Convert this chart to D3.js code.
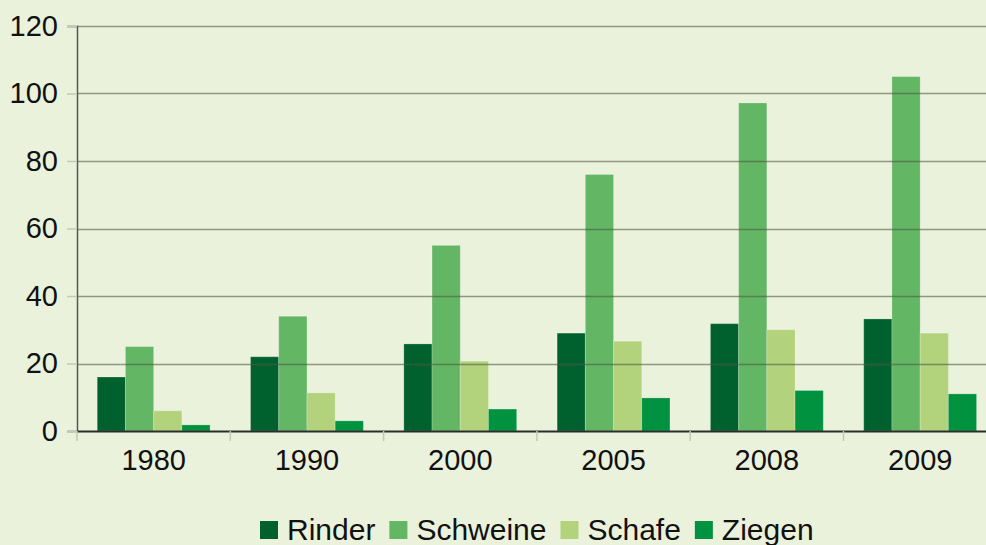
<!DOCTYPE html>
<html><head><meta charset="utf-8">
<script src="https://cdn.jsdelivr.net/npm/d3@7"></script>
<style>
html,body{margin:0;padding:0;background:#ebf2dc;}
svg{display:block;font-family:"Liberation Sans",Arial,sans-serif;}
</style></head>
<body>
<svg id="chart" width="986" height="545"></svg>
<script>
const years = ["1980","1990","2000","2005","2008","2009"];
const seriesNames = ["Rinder","Schweine","Schafe","Ziegen"];
const rinder   = [16, 22, 25.8, 29, 31.8, 33.2];
const schweine = [25, 34, 55, 76, 97.2, 105];
const schafe   = [6, 11.3, 20.7, 26.6, 30, 29];
const ziegen   = [1.8, 3, 6.5, 9.8, 12, 11];
const yTicks = [0, 20, 40, 60, 80, 100, 120];
const colors = ["#00612f", "#63b664", "#b2d37c", "#00923f"];

const seriesValues = [rinder, schweine, schafe, ziegen];
const svg = d3.select("#chart");
const W = 986, H = 545;
const mLeft = 77, mTop = 26, mBottom = 431;
const step = 153.3;

svg.append("rect").attr("width", W).attr("height", H).attr("fill", "#ebf2dc");

const x0 = d3.scaleBand().domain(years).range([mLeft, mLeft + step * years.length]).padding(0);
const bw = x0.bandwidth();
const x1 = d3.scaleBand().domain(seriesNames).range([bw * 0.132, bw * 0.868]).padding(0);
const y = d3.scaleLinear().domain([0, 120]).range([mBottom, mTop]);

// bars
const groups = svg.append("g").selectAll("g").data(years).join("g")
  .attr("transform", d => `translate(${x0(d)},0)`);
groups.selectAll("rect").data((d, i) => seriesNames.map((s, k) => ({s, k, v: seriesValues[k][i]})))
  .join("rect")
  .attr("x", d => x1(d.s))
  .attr("width", x1.bandwidth())
  .attr("y", d => y(d.v))
  .attr("height", d => mBottom - y(d.v))
  .attr("fill", d => colors[d.k])
  .attr("stroke", "rgba(255,255,255,0.22)")
  .attr("stroke-width", 1);

// gridlines (on top of bars)
const grid = svg.append("g");
grid.selectAll("line").data(yTicks.filter(t => t > 0)).join("line")
  .attr("x1", mLeft).attr("x2", W)
  .attr("y1", d => Math.round(y(d)) + 0.5).attr("y2", d => Math.round(y(d)) + 0.5)
  .attr("stroke", "#4f5a44").attr("stroke-opacity", 0.6).attr("stroke-width", 1.3);

// y axis
const yAxis = svg.append("g").attr("transform", `translate(${mLeft},0)`)
  .call(d3.axisLeft(y).tickValues(yTicks).tickSize(10).tickPadding(9));
yAxis.select(".domain").attr("stroke", "#555a50").attr("stroke-width", 1.5);
yAxis.selectAll(".tick line").attr("stroke", "#c3c9b8").attr("stroke-width", 1.5);
yAxis.selectAll(".tick text").attr("font-size", 29).attr("fill", "#111")
  .attr("font-family", "Liberation Sans, Arial, sans-serif");

// x axis
const xAxis = svg.append("g").attr("transform", `translate(0,${mBottom})`)
  .call(d3.axisBottom(x0).tickSize(0).tickPadding(18));
xAxis.select(".domain").attr("stroke", "#2b2e28").attr("stroke-width", 2);
xAxis.selectAll(".tick text").attr("font-size", 29).attr("fill", "#111")
  .attr("font-family", "Liberation Sans, Arial, sans-serif");
// category separators
svg.append("g").selectAll("line").data(d3.range(years.length + 1)).join("line")
  .attr("x1", i => mLeft + i * step).attr("x2", i => mLeft + i * step)
  .attr("y1", mBottom).attr("y2", mBottom + 10)
  .attr("stroke", "#c3c9b8").attr("stroke-width", 1.5);

// legend
const leg = svg.append("g").attr("transform", "translate(260,540)");
let cx = 0;
seriesNames.forEach((s, k) => {
  leg.append("rect").attr("x", cx).attr("y", -19).attr("width", 18).attr("height", 18).attr("fill", colors[k]);
  const t = leg.append("text").attr("x", cx + 27).attr("y", 0).attr("font-size", 30).attr("fill", "#111").text(s);
  cx += 27 + t.node().getComputedTextLength() + 14;
});
</script>
</body></html>
